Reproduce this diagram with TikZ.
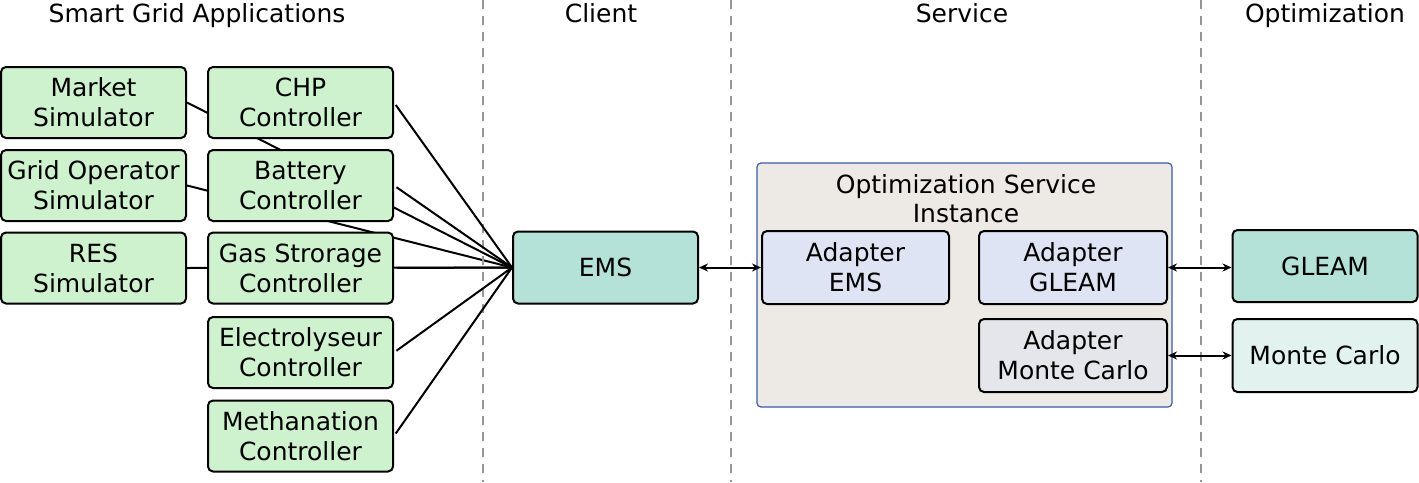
\documentclass[tikz,border=0pt]{standalone}
\usepackage{fontspec}
\setmainfont{DejaVu Sans}
\usetikzlibrary{arrows.meta,backgrounds}
\definecolor{appgreen}{RGB}{206,241,206}
\definecolor{teal1}{RGB}{180,226,216}
\definecolor{teal2}{RGB}{226,243,239}
\definecolor{lav}{RGB}{222,228,244}
\definecolor{lgray}{RGB}{229,230,236}
\definecolor{beige}{RGB}{237,234,229}
\definecolor{svcblue}{RGB}{60,90,170}
\definecolor{dashgray}{RGB}{150,150,150}
\tikzset{
  txt/.style={font=\fontsize{25}{30}\selectfont, align=center},
  box/.style={txt, draw=black, line width=2pt, rounded corners=5pt, inner sep=0pt},
  app/.style={box, fill=appgreen, minimum width=185pt, minimum height=71pt},
  client/.style={box, fill=teal1, minimum width=185pt, minimum height=72pt},
  adapter/.style={box, fill=lav, minimum width=187pt, minimum height=73pt},
  svc/.style={draw=svcblue, line width=1.2pt, fill=beige, rounded corners=4pt, minimum width=415pt, minimum height=244pt, inner sep=0pt},
  conn/.style={line width=2pt, draw=black},
  biarrow/.style={line width=2pt, {Stealth[length=9pt,width=8pt]}-{Stealth[length=9pt,width=8pt]}},
  sep/.style={dashgray, line width=1.5pt, dash pattern=on 9pt off 7pt},
  header/.style={txt, anchor=base, inner sep=0pt}
}
\begin{document}
\begin{tikzpicture}[x=1pt,y=-1pt]
\useasboundingbox (0,0) rectangle (1419,482);
% separators
\coordinate (s1t) at (483,0); \coordinate (s1b) at (483,482);
\coordinate (s2t) at (731,0); \coordinate (s2b) at (731,482);
\coordinate (s3t) at (1201,0); \coordinate (s3b) at (1201,482);
\draw[sep] (s1t) -- (s1b);
\draw[sep] (s2t) -- (s2b);
\draw[sep] (s3t) -- (s3b);
% headers
\node[header] (h1) at (197,22) {Smart Grid Applications};
\node[header] (h2) at (601,22) {Client};
\node[header] (h3) at (962,22) {Service};
\node[header] (h4) at (1325,22) {Optimization};
% applications
\node[app] (market) at (93.5,102.5) {Market\\Simulator};
\node[app] (grid) at (93.5,185.5) {Grid Operator\\Simulator};
\node[app] (res) at (93.5,268) {RES\\Simulator};
\node[client] (ems) at (605.5,267.5) {EMS};
% lines behind controllers
\begin{scope}[on background layer]
\draw[conn] (market.east) -- (ems.west);
\draw[conn] (grid.east) -- (ems.west);
\draw[conn] (res.east) -- (ems.west);
\end{scope}
\node[app] (chp) at (300.5,102.5) {CHP\\Controller};
\node[app] (bat) at (300.5,185.5) {Battery\\Controller};
\node[app] (gas) at (300.5,268) {Gas Strorage\\Controller};
\node[app] (ely) at (300.5,352.5) {Electrolyseur\\Controller};
\node[app] (meth) at (300.5,436) {Methanation\\Controller};
\draw[conn, shorten <=3pt] (chp.east) -- (ems.west);
\draw[conn, shorten <=3pt] (bat.east) -- (ems.west);
\draw[conn, shorten <=3pt] (gas.east) -- (ems.west);
\draw[conn, shorten <=3pt] (ely.east) -- (ems.west);
\draw[conn, shorten <=3pt] (meth.east) -- (ems.west);
% service
\node[svc] (service) at (964.5,285) {};
\node[txt, anchor=base] (svctitle) at (966,193) {Optimization Service};
\node[txt, anchor=base] (svctitle2) at (966,222) {Instance};
\node[adapter] (aems) at (855.5,267.5) {Adapter\\EMS};
\node[adapter, minimum width=188pt] (agleam) at (1073,267.5) {Adapter\\GLEAM};
\node[adapter, minimum width=188pt, fill=lgray] (amc) at (1073,355.5) {Adapter\\Monte Carlo};
% optimization
\node[client, minimum width=185pt] (gleam) at (1325,266) {GLEAM};
\node[client, minimum width=185pt, minimum height=73pt, fill=teal2] (mc) at (1325,355.5) {Monte Carlo};
% arrows
\draw[biarrow] (ems.east) -- (aems.west);
\draw[biarrow] (agleam.east) -- (gleam.west |- agleam.east);
\draw[biarrow] (amc.east) -- (mc.west |- amc.east);
\end{tikzpicture}
\end{document}
